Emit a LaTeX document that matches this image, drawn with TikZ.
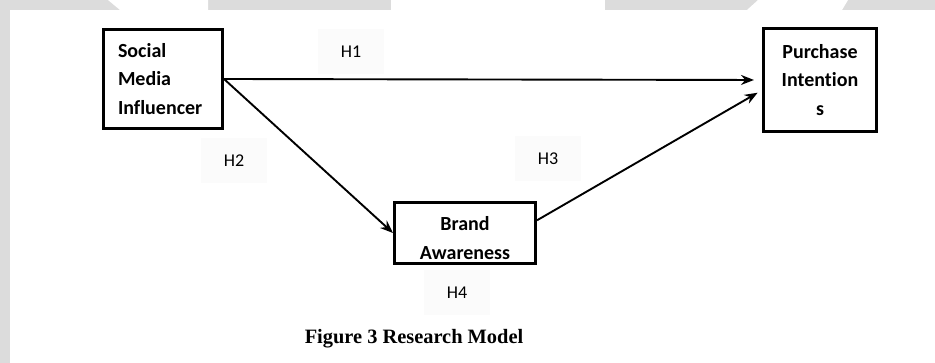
\documentclass[tikz,border=0pt]{standalone}
\usepackage{fontspec}
\setmainfont{Carlito}[Ligatures={NoCommon}]
\newfontfamily\capfont{Liberation Serif}
\usetikzlibrary{arrows.meta}
\definecolor{framegray}{RGB}{220,220,220}
\definecolor{labelbg}{RGB}{251,251,251}

\begin{document}
\begin{tikzpicture}[x=1pt,y=-1pt,
  boxtext/.style={font=\fontsize{20}{28.5}\selectfont\bfseries},
  box/.style={draw=black, line width=3pt, fill=white, inner sep=0pt, boxtext},
  hlabel/.style={fill=labelbg, minimum width=66pt, minimum height=45pt,
    inner sep=0pt, font=\fontsize{18}{20}\selectfont},
  link/.style={line width=1.9pt, -{Stealth[length=13pt,width=10pt]}},
  caption/.style={font=\capfont\fontsize{20.4}{24}\selectfont\bfseries},
]
% page and its grey frame
\fill[white] (0,0) rectangle (935,363);
\useasboundingbox (0,0) rectangle (935,363);
\fill[framegray] (0,0) rectangle (935,10);
\fill[framegray] (0,0) rectangle (10,363);
\fill[white] (108,0) -- (208,0) -- (208,10) -- (120,10) -- cycle;
\fill[white] (391,0) -- (605,0) -- (605,10) -- (391,10) -- cycle;
\fill[white] (758,0) -- (848,0) -- (842,10) -- (747,10) -- cycle;

% hypothesis labels
\node[hlabel] (h1) at (351,52) {H1};
\node[hlabel] (h2) at (234,161) {H2};
\node[hlabel] (h3) at (548,159) {H3};
\node[hlabel] (h4) at (457,293) {H4};

% constructs
\node[box, minimum width=119pt, minimum height=99pt, text width=90pt, align=left]
  (smi) at (163,79) {Social\\Media\\Influencer};
\node[box, minimum width=113pt, minimum height=103pt, text width=100pt, align=center]
  (pi) at (820,80) {Purchase\\Intention\\s};
\node[box, minimum width=141pt, minimum height=61pt,
  label={[name=batext, boxtext, align=center, yshift=-5pt]center:Brand\\Awareness}]
  (ba) at (465,233) {};

% paths
\draw[link, shorten >=8pt] (smi.east) -- (pi.west);
\draw[link] (smi.east) -- (ba.west);
\draw[link, shorten >=5pt] (ba.10) -- (pi.190);

% caption
\node[caption] (cap) at (414,339) {Figure 3 Research Model};
\end{tikzpicture}
\end{document}
